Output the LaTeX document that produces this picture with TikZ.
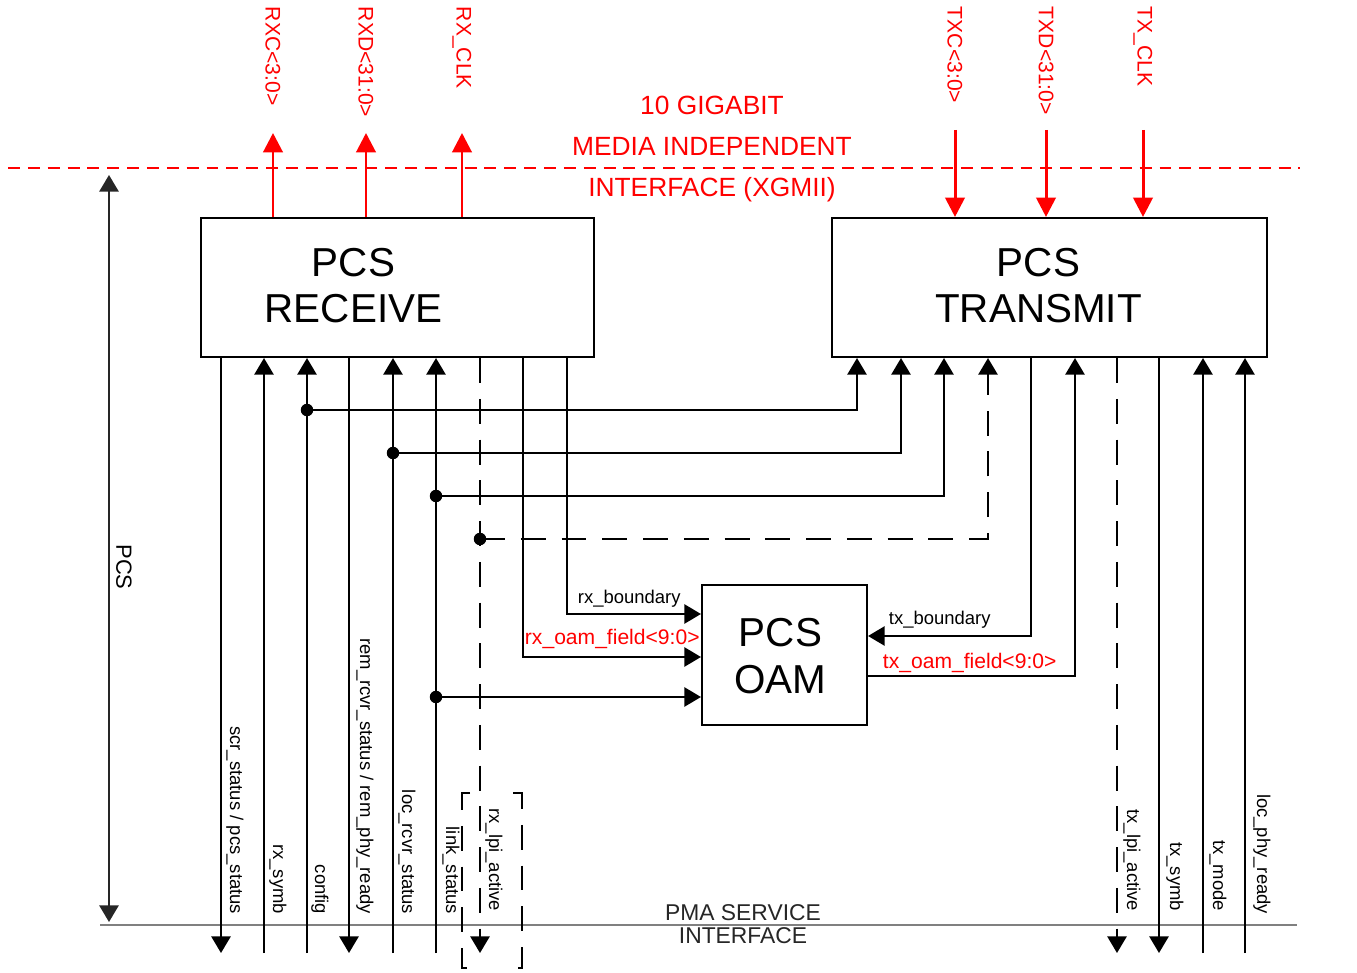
\documentclass[tikz,border=0pt]{standalone}
\usepackage{fontspec}
\setmainfont{Liberation Sans}
\usetikzlibrary{arrows.meta,calc,positioning}

\tikzset{
  blk/.style={draw, line width=1.2pt, inner sep=0pt},
  blktxt/.style={font=\fontsize{23}{26.6}\selectfont, align=center, inner sep=0pt},
  xgmii/.style={draw=red, line width=1.5pt, dash pattern=on 6.8pt off 4.5pt},
  xg/.style={draw=red, line width=1.7pt, -{Triangle[length=11pt,width=11pt]}},
  xgtitle/.style={text=red, font=\fontsize{15}{23.2}\selectfont, align=center, inner sep=0pt},
  xlbl/.style={text=red, font=\fontsize{12}{14}\selectfont, inner sep=0pt},
  lbl/.style={font=\fontsize{10.5}{12}\selectfont, inner sep=0pt},
  vlbl/.style={lbl, rotate=-90, anchor=east},
  dsig/.style={dash pattern=on 14.2pt off 9pt},
  jn/.style={circle, fill, inner sep=0pt, minimum size=0.25cm},
  pma/.style={draw=black!50, line width=1.7pt}
}

\begin{document}
\begin{tikzpicture}[x=0.02cm, y=-0.02cm, line width=1.1pt,
    >={Triangle[length=9.5pt,width=11pt]}]
    \useasboundingbox (0,0) rectangle (1357,973);
    % interfaces
    \coordinate (xgl) at (8,168);
    \coordinate (xgr) at (1300,168);
    \draw[xgmii] (xgl) -- (xgr);
    \node[xgtitle] (xgt) at (712,149) {10 GIGABIT\\MEDIA INDEPENDENT\\INTERFACE (XGMII)};
    \coordinate (pmal) at (100,925);
    \coordinate (pmar) at (1297,925);
    \draw[pma] (pmal) -- (pmar);
    \node[align=center, inner sep=0pt, text=black!85,
          font=\fontsize{13}{13}\selectfont] (pmat) at (743,924) {PMA SERVICE\\INTERFACE};
    \coordinate (pcst) at (109,175);
    \coordinate (pcsb) at (109,922);
    \draw[<->, draw=black!85] (pcst) -- (pcsb);
    \node[font=\fontsize{12.5}{14}\selectfont, rotate=-90, inner sep=0pt] (pcsl) at (124,567) {PCS};

    % blocks
    \node[blk, minimum width=7.86cm, minimum height=2.78cm] (rcv) at (397.5,287.5) {};
    \node[blktxt] (rcvt) at ($(rcv.center)+(-44,-2)$) {PCS\\RECEIVE};
    \node[blk, minimum width=8.7cm, minimum height=2.78cm] (tx) at (1049.5,287.5) {};
    \node[blktxt] (txt) at ($(tx.center)+(-11,-2)$) {PCS\\TRANSMIT};
    \node[blk, minimum width=3.3cm, minimum height=2.8cm] (oam) at (784.5,655) {};
    \node[blktxt] (oamt) at ($(oam.center)+(-4,1)$) {PCS\\OAM};

    % XGMII signals
    \coordinate (rxc) at (273,133);
    \coordinate (rxd) at (366,133);
    \coordinate (rxclk) at (462,133);
    \draw[xg] (rxc |- rcv.north) -- (rxc);
    \draw[xg] (rxd |- rcv.north) -- (rxd);
    \draw[xg] (rxclk |- rcv.north) -- (rxclk);
    \node[xlbl, rotate=-90, anchor=west] (rxcl) at (273,6) {RXC<3:0>};
    \node[xlbl, rotate=-90, anchor=west] (rxdl) at (366,6) {RXD<31:0>};
    \node[xlbl, rotate=-90, anchor=west] (rxclkl) at (462,6) {RX\_CLK};
    \coordinate (txc) at (955,130);
    \coordinate (txd) at (1046,130);
    \coordinate (txclk) at (1143,130);
    \draw[xg] (txc) -- (txc |- tx.north);
    \draw[xg] (txd) -- (txd |- tx.north);
    \draw[xg] (txclk) -- (txclk |- tx.north);
    \node[xlbl, rotate=-90, anchor=west] (txcl) at (955,6) {TXC<3:0>};
    \node[xlbl, rotate=-90, anchor=west] (txdl) at (1046,6) {TXD<31:0>};
    \node[xlbl, rotate=-90, anchor=west] (txclkl) at (1143,6) {TX\_CLK};

    % PMA side of receive
    \coordinate (scr) at (221,953);
    \coordinate (rxsymb) at (264,953);
    \coordinate (cfg) at (307,953);
    \coordinate (rem) at (349,953);
    \coordinate (locr) at (393,953);
    \coordinate (link) at (436,953);
    \coordinate (rxlpi) at (480,953);
    \draw[->] (scr |- rcv.south) -- (scr);
    \draw[->] (rxsymb) -- (rxsymb |- rcv.south);
    \draw[->] (cfg) -- (cfg |- rcv.south);
    \draw[->] (rem |- rcv.south) -- (rem);
    \draw[->] (locr) -- (locr |- rcv.south);
    \draw[->] (link) -- (link |- rcv.south);
    \draw[->, dsig] (rxlpi |- rcv.south) -- (rxlpi);
    \node[vlbl] (scrl) at (235,915) {scr\_status / pcs\_status};
    \node[vlbl] (rxsymbl) at (278,915) {rx\_symb};
    \node[vlbl] (cfgl) at (320,915) {config};
    \node[vlbl] (reml) at (365,915) {rem\_rcvr\_status / rem\_phy\_ready};
    \node[vlbl] (locrl) at (407,915) {loc\_rcvr\_status};
    \node[vlbl] (linkl) at (451,915) {link\_status};
    \node[vlbl] (rxlpil) at (494,912) {rx\_lpi\_active};
    \draw[dsig] (470,793) -| (462,968) -- (470,968);
    \draw[dsig] (513,793) -| (522,968) -- (513,968);

    % receive to transmit
    \node[jn] (jcfg) at (307,410) {};
    \node[jn] (jlocr) at (393,453) {};
    \node[jn] (jlink) at (436,496) {};
    \node[jn] (jlpi) at (480,539) {};
    \coordinate (tcfg) at (857,410);
    \coordinate (tlocr) at (901,453);
    \coordinate (tlink) at (944,496);
    \coordinate (tlpi) at (988,539);
    \draw[->] (jcfg.center) -- (tcfg) -- (tcfg |- tx.south);
    \draw[->] (jlocr.center) -- (tlocr) -- (tlocr |- tx.south);
    \draw[->] (jlink.center) -- (tlink) -- (tlink |- tx.south);
    \draw[->, dsig] (jlpi.center) -- (tlpi) -- (tlpi |- tx.south);

    % OAM
    \coordinate (rxbnd) at (567,614);
    \coordinate (rxoam) at (523,657);
    \node[jn] (jlinko) at (436,697) {};
    \draw[->] (rxbnd |- rcv.south) |- (oam.west |- rxbnd);
    \draw[->] (rxoam |- rcv.south) |- (oam.west |- rxoam);
    \draw[->] (jlinko.center) -- (oam.west |- jlinko);
    \node[lbl, anchor=base west] (rxbndl) at (577,603) {rx\_boundary};
    \node[xlbl, anchor=base west] (rxoaml) at (524,644) {rx\_oam\_field<9:0>};
    \coordinate (txbnd) at (1031,636);
    \coordinate (txoam) at (1075,676);
    \draw[->] (txbnd |- tx.south) |- (oam.east |- txbnd);
    \draw[->] (oam.east |- txoam) -| (txoam |- tx.south);
    \node[lbl, anchor=base west] (txbndl) at (888,624) {tx\_boundary};
    \node[xlbl, anchor=base west] (txoaml) at (882,668) {tx\_oam\_field<9:0>};

    % PMA side of transmit
    \coordinate (txlpi) at (1117,953);
    \coordinate (txsymb) at (1159,953);
    \coordinate (txmode) at (1203,953);
    \coordinate (locphy) at (1245,953);
    \draw[->, dsig] (txlpi |- tx.south) -- (txlpi);
    \draw[->] (txsymb |- tx.south) -- (txsymb);
    \draw[->] (txmode) -- (txmode |- tx.south);
    \draw[->] (locphy) -- (locphy |- tx.south);
    \node[vlbl] (txlpil) at (1132,912) {tx\_lpi\_active};
    \node[vlbl] (txsymbl) at (1175,912) {tx\_symb};
    \node[vlbl] (txmodel) at (1218,912) {tx\_mode};
    \node[vlbl] (locphyl) at (1262,915) {loc\_phy\_ready};
\end{tikzpicture}
\end{document}
